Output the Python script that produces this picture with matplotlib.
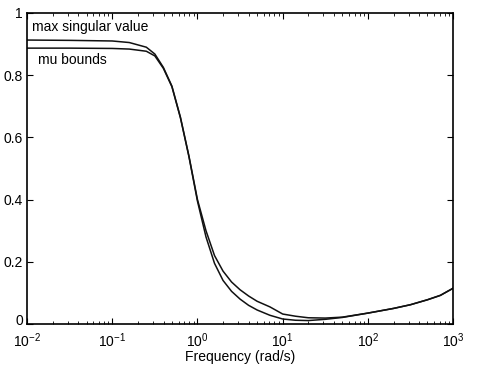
import numpy as np
import matplotlib.pyplot as plt
import matplotlib.transforms as mtransforms

plt.rcParams['font.family'] = ['Liberation Sans', 'DejaVu Sans']
plt.rcParams['mathtext.fontset'] = 'custom'
plt.rcParams['mathtext.rm'] = 'Liberation Sans'
plt.rcParams['mathtext.it'] = 'Liberation Sans'
plt.rcParams['mathtext.default'] = 'regular'

# log10 of frequency (rad/s) and values
sv_logw = [-2.0, -1.5, -1.0, -0.8, -0.6, -0.5, -0.4, -0.3, -0.2, -0.1, 0.0,
           0.1, 0.2, 0.3, 0.4, 0.5, 0.6, 0.7, 0.85, 1.0, 1.15, 1.3, 1.5,
           1.7, 2.0, 2.3, 2.5, 2.7, 2.85, 3.0]
sv_vals = [0.913, 0.912, 0.910, 0.905, 0.890, 0.868, 0.825, 0.765, 0.665, 0.540, 0.400,
           0.300, 0.220, 0.170, 0.135, 0.110, 0.090, 0.073, 0.055, 0.032, 0.025, 0.020, 0.019,
           0.022, 0.035, 0.050, 0.062, 0.078, 0.092, 0.115]

mu_logw = [-2.0, -1.5, -1.0, -0.8, -0.6, -0.5, -0.4, -0.3, -0.2, -0.1, 0.0,
           0.1, 0.2, 0.3, 0.4, 0.5, 0.6, 0.7, 0.85, 1.0, 1.15, 1.3, 1.5,
           1.7, 2.0, 2.3, 2.5, 2.7, 2.85, 3.0]
mu_vals = [0.887, 0.887, 0.886, 0.884, 0.877, 0.862, 0.822, 0.763, 0.663, 0.538, 0.395,
           0.280, 0.195, 0.140, 0.105, 0.080, 0.060, 0.045, 0.028, 0.016, 0.012, 0.011, 0.015,
           0.021, 0.035, 0.050, 0.062, 0.078, 0.092, 0.115]

sv_w = 10.0 ** np.array(sv_logw)
mu_w = 10.0 ** np.array(mu_logw)

fig = plt.figure(figsize=(4.78, 3.66), dpi=100)
ax = fig.add_axes([0.0565, 0.1148, 0.8915, 0.8497])

ax.semilogx(sv_w, sv_vals, color='#111111', lw=1.1)
ax.semilogx(mu_w, mu_vals, color='#111111', lw=1.1)

ax.set_xlim(1e-2, 1e3)
ax.set_ylim(0, 1)
ax.set_yticks([0, 0.2, 0.4, 0.6, 0.8, 1.0])
ax.set_yticklabels(['0', '0.2', '0.4', '0.6', '0.8', '1'])
ax.tick_params(direction='in', which='both', top=True, right=True, labelsize=10)
ax.tick_params(axis='x', pad=5)
ax.tick_params(axis='y', pad=3)
ax.tick_params(which='major', length=4)
ax.tick_params(which='minor', length=2)
for s in ax.spines.values():
    s.set_linewidth(1.2)

# lift the "0" label a little so it clears the 10^-2 label
zero_lbl = ax.get_yticklabels()[0]
zero_lbl.set_transform(zero_lbl.get_transform() +
                       mtransforms.ScaledTranslation(0, 3 / 72, fig.dpi_scale_trans))

ax.set_xlabel('Frequency (rad/s)', fontsize=10, labelpad=0)

ax.text(1.15e-2, 0.955, 'max singular value', fontsize=10, va='center', ha='left')
ax.text(1.35e-2, 0.848, 'mu bounds', fontsize=10, va='center', ha='left')

fig.savefig('out.png', dpi=100)
